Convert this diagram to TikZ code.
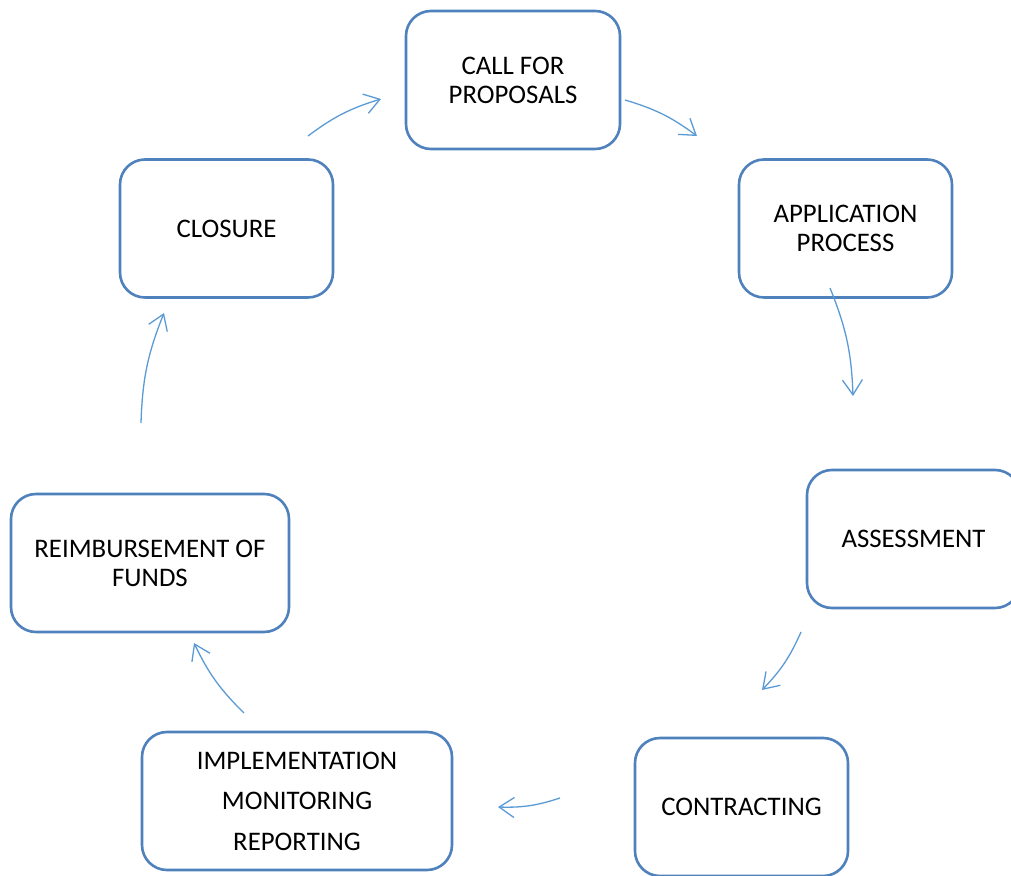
\documentclass[tikz,border=0pt]{standalone}
\usepackage{fontspec}
\setmainfont{Carlito}
\usetikzlibrary{arrows.meta}
\definecolor{boxblue}{HTML}{4F81BD}
\definecolor{arrblue}{HTML}{5B9BD5}
\tikzset{
  stepbox/.style={draw=boxblue, line width=2.6pt, rounded corners=25pt, minimum height=138pt, align=center, font=\fontsize{26.8}{29}\selectfont, inner sep=0pt},
  flow/.style={draw=arrblue, line width=1.3pt, -{Straight Barb[length=15pt,width=20pt,line width=1.3pt]}, bend left=10}
}
\begin{document}
\begin{tikzpicture}[x=1pt,y=1pt]
\useasboundingbox (0,0) rectangle (1011,875);
\clip (0,0) rectangle (1011,875);
\fill[white] (0,0) rectangle (1011,875);
\node[stepbox, minimum width=214pt] (call) at (513,795) {CALL FOR\\PROPOSALS};
\node[stepbox, minimum width=213pt] (app) at (845.5,646.5) {APPLICATION\\PROCESS};
\node[stepbox, minimum width=213pt] (assess) at (913.5,336) {ASSESSMENT};
\node[stepbox, minimum width=213pt] (contract) at (741.5,68) {CONTRACTING};
\node[stepbox, minimum width=310pt, font=\fontsize{26.8}{40.5}\selectfont] (impl) at (297,74) {IMPLEMENTATION\\MONITORING\\REPORTING};
\node[stepbox, minimum width=278pt] (reimb) at (150,312) {REIMBURSEMENT OF\\FUNDS};
\node[stepbox, minimum width=213pt] (closure) at (226.5,646.5) {CLOSURE};
\coordinate (a1s) at (308,739); \coordinate (a1e) at (381,776);
\coordinate (a2s) at (625,775); \coordinate (a2e) at (697,739);
\coordinate (a3s) at (830,587); \coordinate (a3e) at (853,479);
\coordinate (a4s) at (801,243); \coordinate (a4e) at (762,185);
\coordinate (a5s) at (560,77);  \coordinate (a5e) at (498,68);
\coordinate (a6s) at (244,162); \coordinate (a6e) at (194,232);
\coordinate (a7s) at (141,452); \coordinate (a7e) at (164,562);
\draw[flow] (a1s) to (a1e);
\draw[flow] (a2s) to (a2e);
\draw[flow] (a3s) to (a3e);
\draw[flow] (a4s) to (a4e);
\draw[flow] (a5s) to (a5e);
\draw[flow] (a6s) to (a6e);
\draw[flow] (a7s) to (a7e);
\end{tikzpicture}
\end{document}
